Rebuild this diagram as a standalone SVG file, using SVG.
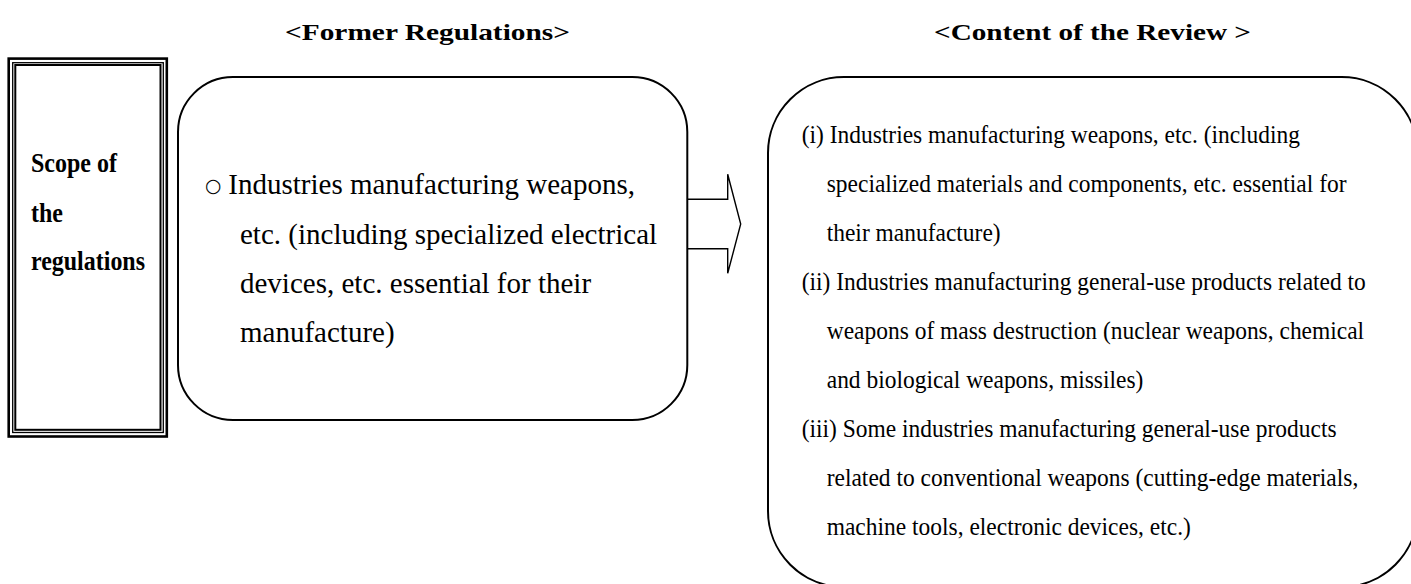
<svg xmlns="http://www.w3.org/2000/svg" width="1411" height="584" viewBox="0 0 1411 584">
<style>
.t{font-family:"Liberation Serif","Times New Roman",serif;fill:#000}
.b{font-weight:bold}
.ln{fill:none;stroke:#000}
.m{font-size:29px}
.r{font-size:25.5px}
</style>
<rect width="1411" height="584" fill="#fff"/>
<g id="title-former">
<text class="t b" x="285" y="40" font-size="23" textLength="285" lengthAdjust="spacingAndGlyphs">&lt;Former Regulations&gt;</text>
</g>
<g id="title-review">
<text class="t b" x="934" y="40" font-size="23" textLength="317" lengthAdjust="spacingAndGlyphs">&lt;Content of the Review &gt;</text>
</g>
<g id="scope-label">
<rect x="8.7" y="58.6" width="158.1" height="377.9" fill="#fff" stroke="#000" stroke-width="2.6"/>
<rect class="ln" x="12.7" y="62.7" width="150.6" height="369.8" stroke-width="1.3"/>
<rect class="ln" x="15.3" y="65" width="145.2" height="364.8" stroke-width="2"/>
<text class="t b" x="31" y="171.7" font-size="27" textLength="86" lengthAdjust="spacingAndGlyphs">Scope of</text>
<text class="t b" x="31" y="221.7" font-size="27" textLength="32" lengthAdjust="spacingAndGlyphs">the</text>
<text class="t b" x="31" y="270" font-size="27" textLength="114" lengthAdjust="spacingAndGlyphs">regulations</text>
</g>
<g id="connectors">
<path d="M687.3,199.3 H727.7 V174.3 L740.7,224 L727.7,273.3 V248.7 H687.3" fill="#fff" stroke="#000" stroke-width="1.4" stroke-linejoin="miter"/>
</g>
<g id="former">
<rect class="ln" x="178" y="77" width="509.3" height="343" rx="55" stroke-width="2"/>
<text x="205" y="192" font-family="DejaVu Sans, sans-serif" font-size="19">○</text>
<text class="t m" x="228.3" y="193.5">Industries manufacturing weapons,</text>
<text class="t m" x="240" y="243.5">etc. (including specialized electrical</text>
<text class="t m" x="240" y="293">devices, etc. essential for their</text>
<text class="t m" x="240" y="342">manufacture)</text>
</g>
<g id="review">
<rect class="ln" x="768" y="77" width="649.6" height="510" rx="76" stroke-width="2"/>
<g transform="translate(801.7 0) scale(0.92 1)">
<text class="t r" x="0" y="143">(i) Industries manufacturing weapons, etc. (including</text>
<text class="t r" x="27.2" y="192">specialized materials and components, etc. essential for</text>
<text class="t r" x="27.2" y="241">their manufacture)</text>
<text class="t r" x="0" y="290">(ii) Industries manufacturing general-use products related to</text>
<text class="t r" x="27.2" y="339">weapons of mass destruction (nuclear weapons, chemical</text>
<text class="t r" x="27.2" y="388">and biological weapons, missiles)</text>
<text class="t r" x="0" y="437">(iii) Some industries manufacturing general-use products</text>
<text class="t r" x="27.2" y="486">related to conventional weapons (cutting-edge materials,</text>
<text class="t r" x="27.2" y="535">machine tools, electronic devices, etc.)</text>
</g>
</g>
</svg>
